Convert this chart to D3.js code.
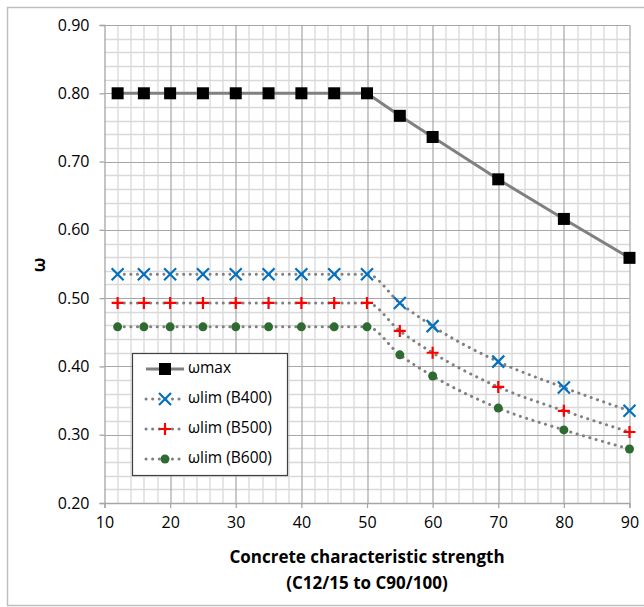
<!DOCTYPE html>
<html lang="en">
<head>
<meta charset="UTF-8" />
<title>omega chart</title>
<script src="https://cdn.jsdelivr.net/npm/d3@7"></script>
<style>
  body { margin: 0; background: #fff; }
  svg text { font-family: "Open Sans", "Noto Sans", sans-serif; }
</style>
</head>
<body>
<div id="chart"></div>
<script>
const strength = [12, 16, 20, 25, 30, 35, 40, 45, 50, 55, 60, 70, 80, 90]
const wMax  = [0.8, 0.8, 0.8, 0.8, 0.8, 0.8, 0.8, 0.8, 0.8, 0.767, 0.736, 0.674, 0.616, 0.559]
const wB400 = [0.535, 0.535, 0.535, 0.535, 0.535, 0.535, 0.535, 0.535, 0.535, 0.493, 0.459, 0.407, 0.369, 0.335]
const wB500 = [0.493, 0.493, 0.493, 0.493, 0.493, 0.493, 0.493, 0.493, 0.493, 0.452, 0.420, 0.370, 0.335, 0.304]
const wB600 = [0.458, 0.458, 0.458, 0.458, 0.458, 0.458, 0.458, 0.458, 0.458, 0.417, 0.386, 0.339, 0.307, 0.279]
const xTicks = [10, 20, 30, 40, 50, 60, 70, 80, 90]
const yTicks = [0.2, 0.3, 0.4, 0.5, 0.6, 0.7, 0.8, 0.9]

const W = 644, H = 607
const m = { top: 25, right: 14.5, bottom: 104, left: 104.5 }
const iw = W - m.left - m.right, ih = H - m.top - m.bottom

const svg = d3.select('#chart').append('svg').attr('width', W).attr('height', H)
svg.append('rect').attr('x', 7.5).attr('y', 7.5).attr('width', W).attr('height', 598)
  .attr('fill', '#fff').attr('stroke', '#bfbfbf').attr('stroke-width', 1.5)

const g = svg.append('g').attr('transform', `translate(${m.left},${m.top})`)
const x = d3.scaleLinear().domain([10, 90]).range([0, iw])
const y = d3.scaleLinear().domain([0.2, 0.9]).range([ih, 0])

// minor grid
const minorX = d3.range(12, 90, 2).filter(v => v % 10 !== 0)
const minorY = d3.range(22, 90, 2).filter(v => v % 10 !== 0).map(v => v / 100)
g.selectAll('.mx').data(minorX).join('line')
  .attr('x1', d => Math.round(x(d)) + 0.5).attr('x2', d => Math.round(x(d)) + 0.5)
  .attr('y1', 0).attr('y2', ih).attr('stroke', '#d9d9d9').attr('stroke-width', 1.3)
g.selectAll('.my').data(minorY).join('line')
  .attr('y1', d => Math.round(y(d)) + 0.5).attr('y2', d => Math.round(y(d)) + 0.5)
  .attr('x1', 0).attr('x2', iw).attr('stroke', '#d9d9d9').attr('stroke-width', 1.3)
// major grid
g.selectAll('.Mx').data(xTicks.slice(1)).join('line')
  .attr('x1', d => Math.round(x(d)) + 0.5).attr('x2', d => Math.round(x(d)) + 0.5)
  .attr('y1', 0).attr('y2', ih).attr('stroke', '#a6a6a6').attr('stroke-width', 1.2)
g.selectAll('.My').data(yTicks.slice(1)).join('line')
  .attr('y1', d => Math.round(y(d)) + 0.5).attr('y2', d => Math.round(y(d)) + 0.5)
  .attr('x1', 0).attr('x2', iw).attr('stroke', '#a6a6a6').attr('stroke-width', 1.2)

// axes
const xAxis = g.append('g').attr('transform', `translate(0,${ih})`)
  .call(d3.axisBottom(x).tickValues(xTicks).tickSize(5).tickPadding(9).tickFormat(d3.format('d')))
const yAxis = g.append('g')
  .call(d3.axisLeft(y).tickValues(yTicks).tickSize(5).tickPadding(10).tickFormat(d3.format('.2f')))
;[xAxis, yAxis].forEach(a => {
  a.select('.domain').attr('stroke', '#a6a6a6').attr('stroke-width', 1.3)
  a.selectAll('.tick line').attr('stroke', '#a6a6a6').attr('stroke-width', 1.3)
  a.selectAll('text').attr('font-size', 16).attr('fill', '#000')
})

// series
const pts = vals => strength.map((s, i) => [s, vals[i]])
const line = d3.line().x(d => x(d[0])).y(d => y(d[1]))
const smooth = d3.line().x(d => x(d[0])).y(d => y(d[1])).curve(d3.curveMonotoneX)

const series = [
  { name: 'ωmax', vals: wMax, color: '#000', mark: 'square' },
  { name: 'ωlim (B400)', vals: wB400, color: '#0070c0', mark: 'x' },
  { name: 'ωlim (B500)', vals: wB500, color: '#ff0000', mark: 'plus' },
  { name: 'ωlim (B600)', vals: wB600, color: '#2e6b30', mark: 'dot' }
]

function marker(sel, type, color) {
  if (type === 'square') {
    sel.append('rect').attr('x', -6).attr('y', -6).attr('width', 12).attr('height', 12).attr('fill', color)
  } else if (type === 'x') {
    sel.append('path').attr('d', 'M-6,-6L6,6M-6,6L6,-6').attr('stroke', color).attr('stroke-width', 2.2)
  } else if (type === 'plus') {
    sel.append('path').attr('d', 'M-6,0L6,0M0,-6L0,6').attr('stroke', color).attr('stroke-width', 2.2)
  } else {
    sel.append('circle').attr('r', 4.5).attr('fill', color)
  }
}

series.slice().reverse().forEach(s => {
  const data = pts(s.vals)
  if (s.mark === 'square') {
    g.append('path').attr('d', line(data)).attr('fill', 'none')
      .attr('stroke', '#808080').attr('stroke-width', 3)
  } else {
    g.append('path').attr('d', smooth(data)).attr('fill', 'none')
      .attr('stroke', '#808080').attr('stroke-width', 3)
      .attr('stroke-linecap', 'round').attr('stroke-dasharray', '0.1 6.5')
  }
  g.selectAll(null).data(data).join('g')
    .attr('transform', d => `translate(${x(d[0])},${y(d[1])})`)
    .each(function () { marker(d3.select(this), s.mark, s.color) })
})

// axis titles
svg.append('text').attr('transform', 'translate(40,265) rotate(-90)')
  .attr('text-anchor', 'middle').attr('dominant-baseline', 'middle')
  .attr('font-size', 17).attr('font-weight', 'bold').text('ω')
svg.append('text').attr('x', 367).attr('y', 563).attr('text-anchor', 'middle')
  .attr('font-size', 17).attr('font-weight', 'bold').text('Concrete characteristic strength')
svg.append('text').attr('x', 367).attr('y', 589).attr('text-anchor', 'middle')
  .attr('font-size', 17).attr('font-weight', 'bold').text('(C12/15 to C90/100)')

// legend
const lg = svg.append('g').attr('transform', 'translate(132,353)')
lg.append('rect').attr('x', 0.5).attr('y', 0.5).attr('width', 155).attr('height', 122)
  .attr('fill', '#fff').attr('stroke', '#404040').attr('stroke-width', 1.2)
series.forEach((s, i) => {
  const row = lg.append('g').attr('transform', `translate(0,${16 + i * 30})`)
  const l = row.append('line').attr('x1', 14).attr('x2', 52).attr('stroke', '#808080').attr('stroke-width', 3)
  if (s.mark !== 'square') l.attr('stroke-linecap', 'round').attr('stroke-dasharray', '0.1 6.5')
  const mk = row.append('g').attr('transform', 'translate(33,0)')
  marker(mk, s.mark, s.color)
  row.append('text').attr('x', 56).attr('y', 0).attr('dominant-baseline', 'middle')
    .attr('font-size', 15.5).text(s.name)
})
</script>
</body>
</html>
